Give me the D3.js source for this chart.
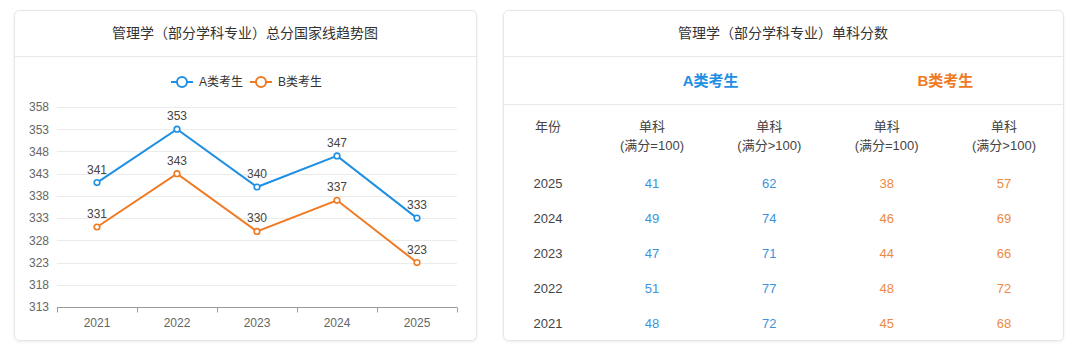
<!DOCTYPE html>
<html><head><meta charset="utf-8">
<script src="https://cdn.jsdelivr.net/npm/d3@7/dist/d3.min.js"></script>
<style>
html,body{margin:0;padding:0;background:#fff;}
svg{display:block;font-family:"Liberation Sans","Noto Sans CJK SC",sans-serif;}
</style></head>
<body>
<svg id="c" width="1080" height="350"></svg>
<script>
// ---- data ----
const chartTitle = "管理学（部分学科专业）总分国家线趋势图";
const tableTitle = "管理学（部分学科专业）单科分数";
const years = ["2021","2022","2023","2024","2025"];
const seriesNames = ["A类考生","B类考生"];
const seriesA = [341,353,340,347,333];
const seriesB = [331,343,330,337,323];
const yTicks = [313,318,323,328,333,338,343,348,353,358];
const tableYears = ["2025","2024","2023","2022","2021"];
const aEq100 = [41,49,47,51,48];
const aGt100 = [62,74,71,77,72];
const bEq100 = [38,46,44,48,45];
const bGt100 = [57,69,66,72,68];
const colHeadTop = ["年份","单科","单科","单科","单科"];
const colHeadBottom = ["","(满分=100)","(满分>100)","(满分=100)","(满分>100)"];

const blue = "#1f8fe3", orange = "#ef7a22";
const tblBlue = "#3d93dc", tblOrange = "#ee8a3f";
const svg = d3.select("#c");

const defs = svg.append("defs");
const f = defs.append("filter").attr("id","sh").attr("x","-5%").attr("y","-5%").attr("width","110%").attr("height","110%");
f.append("feDropShadow").attr("dx",0).attr("dy",1).attr("stdDeviation",1.2).attr("flood-color","#000").attr("flood-opacity",0.08);

function card(x,y,w,h,title){
  const g = svg.append("g");
  g.append("rect").attr("x",x+0.5).attr("y",y+0.5).attr("width",w).attr("height",h).attr("rx",5)
    .attr("fill","#fff").attr("stroke","#e6e6e6").attr("filter","url(#sh)");
  g.append("line").attr("x1",x+1).attr("x2",x+w).attr("y1",56.5).attr("y2",56.5).attr("stroke","#e8e8e8");
  g.append("text").attr("x",x+w/2).attr("y",33).attr("text-anchor","middle").attr("dominant-baseline","central")
    .attr("font-size",14).attr("fill","#333").text(title);
  return g;
}

// ---- left card: line chart ----
card(14,10,462,330,chartTitle);

const x = d3.scaleBand().domain(years).range([57,457]);
const y = d3.scaleLinear().domain([313,358]).range([307,107]);
const gChart = svg.append("g");

// gridlines
gChart.selectAll("line.grid").data(yTicks.slice(1)).join("line")
  .attr("x1",57).attr("x2",457).attr("y1",d=>Math.round(y(d))+0.5).attr("y2",d=>Math.round(y(d))+0.5)
  .attr("stroke","#ebebeb");

// y axis labels
const yAxis = d3.axisLeft(y).tickValues(yTicks).tickSize(0).tickPadding(8);
const gy = gChart.append("g").attr("transform","translate(57,0)").call(yAxis);
gy.select(".domain").remove();
gy.selectAll("text").attr("font-size",12).attr("fill","#666").attr("font-family","Liberation Sans, sans-serif");

// x axis
const xAxis = d3.axisBottom(x).tickSize(0).tickPadding(11);
const gx = gChart.append("g").attr("transform","translate(0,307.5)").call(xAxis);
gx.select(".domain").attr("stroke","#9a9a9a").attr("d","M57,0H457");
gx.selectAll("text").attr("font-size",12).attr("fill","#666").attr("font-family","Liberation Sans, sans-serif");
const bounds = years.map(d=>x(d)).concat([x(years[years.length-1])+x.bandwidth()]);
gChart.selectAll("line.tk").data(bounds).join("line")
  .attr("x1",d=>Math.round(d)+0.5).attr("x2",d=>Math.round(d)+0.5).attr("y1",307.5).attr("y2",312.5)
  .attr("stroke","#9a9a9a");

const cx = d => x(d)+x.bandwidth()/2;
const series = [{name:seriesNames[0],vals:seriesA,color:blue},{name:seriesNames[1],vals:seriesB,color:orange}];
const line = d3.line().x((d,i)=>cx(years[i])).y(d=>y(d));
series.forEach(s=>{
  gChart.append("path").attr("d",line(s.vals)).attr("fill","none").attr("stroke",s.color).attr("stroke-width",2);
  gChart.selectAll(null).data(s.vals).join("circle")
    .attr("cx",(d,i)=>cx(years[i])).attr("cy",d=>y(d)).attr("r",2.8)
    .attr("fill","#fff").attr("stroke",s.color).attr("stroke-width",1.6);
  gChart.selectAll(null).data(s.vals).join("text")
    .attr("x",(d,i)=>cx(years[i])).attr("y",d=>y(d)-9)
    .attr("text-anchor","middle").attr("font-size",12).attr("fill","#444")
    .text(d=>d);
});

// legend
const legX = [171,250];
series.forEach((s,i)=>{
  const lg = svg.append("g").attr("transform",`translate(${legX[i]},82)`);
  lg.append("line").attr("x1",0).attr("x2",22).attr("y1",0).attr("y2",0).attr("stroke",s.color).attr("stroke-width",2);
  lg.append("circle").attr("cx",11).attr("cy",0).attr("r",5).attr("fill","#fff").attr("stroke",s.color).attr("stroke-width",2);
  lg.append("text").attr("x",28).attr("y",0).attr("dominant-baseline","central").attr("font-size",12).attr("fill","#333").text(s.name);
});

// ---- right card: table ----
card(503,10,560,330,tableTitle);
svg.append("line").attr("x1",504).attr("x2",1063).attr("y1",104.5).attr("y2",104.5).attr("stroke","#e8e8e8");

const colX = d3.scalePoint().domain([1,2,3,4]).range([652,1004]);
const colCenter = i => i===0 ? 548 : colX(i);
svg.append("text").attr("x",(colCenter(1)+colCenter(2))/2).attr("y",80).attr("text-anchor","middle").attr("dominant-baseline","central")
  .attr("font-size",15).attr("font-weight","bold").attr("fill",blue).text(seriesNames[0]);
svg.append("text").attr("x",(colCenter(3)+colCenter(4))/2).attr("y",80).attr("text-anchor","middle").attr("dominant-baseline","central")
  .attr("font-size",15).attr("font-weight","bold").attr("fill",orange).text(seriesNames[1]);

const gT = svg.append("g").attr("font-size",13);
gT.selectAll("text.h1").data(colHeadTop).join("text")
  .attr("x",(d,i)=>colCenter(i)).attr("y",126).attr("text-anchor","middle").attr("dominant-baseline","central")
  .attr("fill","#444").text(d=>d);
gT.selectAll("text.h2").data(colHeadBottom).join("text")
  .attr("x",(d,i)=>colCenter(i)).attr("y",145).attr("text-anchor","middle").attr("dominant-baseline","central")
  .attr("fill","#444").text(d=>d);

const rowY = d3.scalePoint().domain(tableYears).range([183,323]);
const cols = [
  {vals:tableYears,color:"#444"},
  {vals:aEq100,color:tblBlue},
  {vals:aGt100,color:tblBlue},
  {vals:bEq100,color:tblOrange},
  {vals:bGt100,color:tblOrange}
];
cols.forEach((c,ci)=>{
  gT.selectAll(null).data(c.vals).join("text")
    .attr("x",colCenter(ci)).attr("y",(d,ri)=>rowY(tableYears[ri]))
    .attr("text-anchor","middle").attr("dominant-baseline","central")
    .attr("fill",c.color).text(d=>d);
});
</script>
</body></html>
